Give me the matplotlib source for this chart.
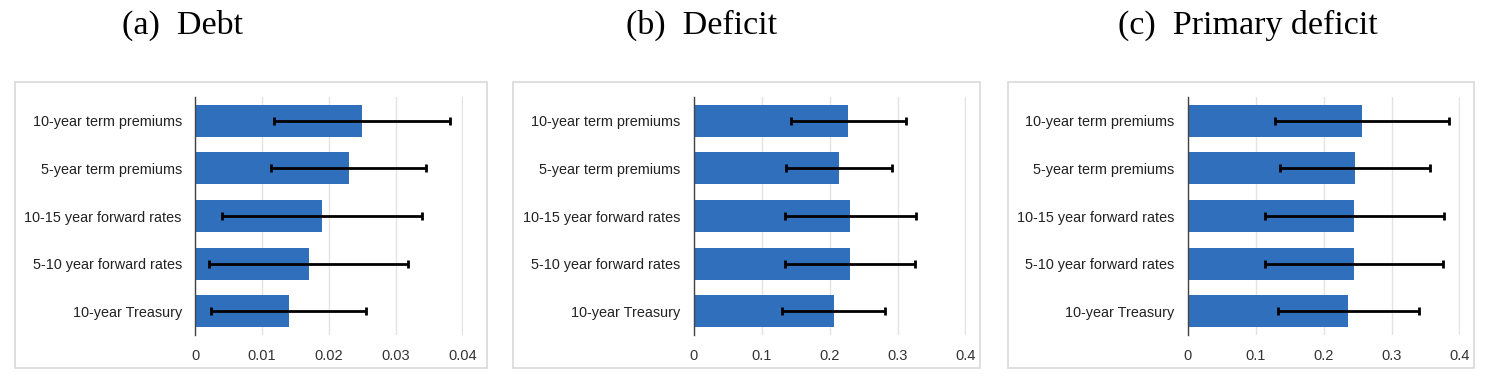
import matplotlib.pyplot as plt
from matplotlib.patches import Rectangle

categories = ['10-year Treasury', '5-10 year forward rates', '10-15 year forward rates',
              '5-year term premiums', '10-year term premiums']

debt = [0.014, 0.017, 0.019, 0.023, 0.025]
debt_err = [0.0116, 0.0149, 0.0149, 0.0116, 0.0132]

deficit = [0.206, 0.2297, 0.2307, 0.2138, 0.2277]
deficit_err = [0.076, 0.096, 0.0962, 0.0778, 0.0844]

primary = [0.2365, 0.2445, 0.2452, 0.2458, 0.2562]
primary_err = [0.1037, 0.1315, 0.132, 0.1105, 0.128]

titles = ['(a)  Debt', '(b)  Deficit', '(c)  Primary deficit']
xticks_small = [0, 0.01, 0.02, 0.03, 0.04]
xticks_big = [0, 0.1, 0.2, 0.3, 0.4]

plt.rcParams['font.family'] = ['Liberation Sans', 'DejaVu Sans']

fig = plt.figure(figsize=(14.92, 3.86), dpi=100)

panels = [
    (debt, debt_err, xticks_small, ['0', '0.01', '0.02', '0.03', '0.04'],
     [0.1307, 0.1321, 0.1796, 0.6166], [0.01005, 0.0466, 0.3164, 0.741], 0.1226),
    (deficit, deficit_err, xticks_big, ['0', '0.1', '0.2', '0.3', '0.4'],
     [0.4651, 0.1321, 0.1823, 0.6166], [0.3438, 0.0466, 0.3130, 0.741], 0.4705),
    (primary, primary_err, xticks_big, ['0', '0.1', '0.2', '0.3', '0.4'],
     [0.7962, 0.1321, 0.1823, 0.6166], [0.6756, 0.0466, 0.3123, 0.741], 0.8365),
]

for i, (vals, errs, ticks, ticklabels, rect, box, tx) in enumerate(panels):
    # light frame around each panel
    fig.patches.append(Rectangle((box[0], box[1]), box[2], box[3], transform=fig.transFigure,
                                 fill=False, edgecolor='#d9d9d9', linewidth=1.2))
    ax = fig.add_axes(rect)
    y = range(len(categories))
    ax.barh(y, vals, height=0.67, color='#2F6FBC', zorder=2)
    ax.errorbar(vals, y, xerr=errs, fmt='none', ecolor='black', elinewidth=2,
                capsize=3, capthick=2, zorder=3)
    ax.set_yticks(list(y))
    ax.set_yticklabels(categories, fontsize=10.4, color='#222222')
    ax.set_xticks(ticks)
    ax.set_xticklabels(ticklabels, fontsize=10.5, color='#333333')
    ax.set_xlim(ticks[0], ticks[-1] * 1.002)
    ax.set_ylim(-0.5, 4.5)
    ax.tick_params(length=0)
    ax.tick_params(axis='y', pad=9.5)
    ax.tick_params(axis='x', pad=10)
    ax.grid(axis='x', color='#e3e3e3', linewidth=1, zorder=0)
    for s in ['top', 'right', 'bottom']:
        ax.spines[s].set_visible(False)
    ax.spines['left'].set_color('#444444')
    ax.spines['left'].set_linewidth(1)
    ax.spines['left'].set_zorder(4)
    fig.text(tx, 0.935, titles[i], ha='center', va='center', fontsize=24.5,
             family=['Liberation Serif', 'DejaVu Serif'])

fig.savefig('out.png', dpi=100)
